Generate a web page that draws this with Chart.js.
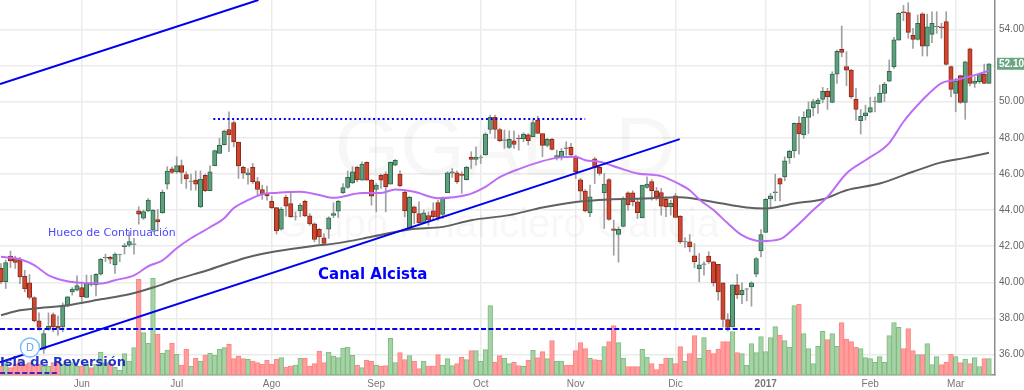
<!DOCTYPE html>
<html>
<head>
<meta charset="utf-8">
<title>GGAL, D</title>
<script src="https://cdn.jsdelivr.net/npm/chart.js@4"></script>
<style>
  html, body { margin: 0; padding: 0; background: #fff; overflow: hidden; }
  canvas { display: block; filter: blur(0.35px); }
</style>
</head>
<body>
<canvas id="chart" width="1024" height="390"></canvas>
<script>
const opens = [40.77,40.03,41.45,41.32,41.23,40.34,39.97,39.16,37.87,36.30,37.40,38.22,37.57,37.53,38.68,39.47,39.57,39.71,39.16,39.97,39.86,40.45,41.36,41.38,40.97,41.54,41.98,42.06,42.10,43.96,43.55,43.96,42.89,43.48,43.85,
  45.44,46.29,46.12,46.47,45.97,45.59,45.66,44.18,45.92,45.07,46.45,47.14,47.62,48.46,48.85,47.76,46.36,45.95,46.36,45.58,45.14,44.92,44.48,44.14,42.94,44.70,44.36,43.62,43.96,44.48,43.68,43.24,42.94,42.46,42.94,43.70,43.94,
  44.96,45.25,45.51,46.36,45.66,46.64,45.66,45.14,45.92,45.99,45.44,46.49,45.99,44.99,42.98,44.18,43.81,43.29,43.70,43.96,44.42,43.76,44.97,46.05,46.06,45.99,45.69,46.93,46.80,46.89,47.06,48.46,49.13,48.46,47.86,47.47,47.84,47.98,47.95,48.17,48.06,48.98,48.24,47.58,47.91,46.91,46.93,47.45,47.47,46.93,45.68,45.05,43.85,46.84,46.36,44.96,45.69,42.96,42.65,43.09,44.96,44.96,44.46,43.57,45.25,45.58,45.07,44.97,44.60,44.18,44.79,43.66,
  42.24,42.24,41.47,40.76,40.99,41.45,41.13,40.99,39.97,37.94,37.53,39.86,39.32,39.62,39.75,40.45,41.74,
  42.76,44.62,44.97,45.75,45.84,46.89,47.28,48.82,48.17,49.13,49.65,49.89,50.13,50.57,49.96,51.53,52.90,51.95,51.75,50.13,48.95,49.22,49.42,49.99,49.96,50.46,51.14,51.94,53.41,54.97,54.93,53.67,53.45,54.87,53.08,53.73,54.16,54.15,54.43,51.94,50.46,51.44,49.96,52.93,51.01,51.11,51.53,51.01];
const closes = [40.03,41.10,41.19,41.10,40.30,39.64,39.16,37.87,37.50,37.16,37.57,37.53,37.48,38.68,39.20,39.62,39.82,39.20,39.97,39.88,40.45,41.28,41.38,41.28,41.56,41.56,42.04,42.26,42.13,43.78,43.92,44.55,44.00,43.35,44.98,
  46.16,46.08,46.47,46.08,45.73,45.60,45.44,45.71,45.07,46.12,47.30,47.58,48.37,48.17,47.78,46.45,46.05,46.06,45.57,45.14,44.90,44.79,44.12,42.85,44.05,44.22,43.63,43.63,44.27,43.68,43.24,42.37,42.52,42.15,43.57,43.81,44.49,
  45.25,45.81,46.12,45.69,46.54,45.66,44.77,45.38,45.66,45.29,46.64,46.75,45.34,43.96,44.70,43.85,43.29,43.85,43.44,43.63,43.59,44.68,46.06,46.12,45.57,45.92,46.36,46.80,46.93,46.90,48.21,49.13,48.46,47.84,47.89,47.91,47.63,47.95,48.21,47.84,48.85,48.24,47.58,47.91,47.36,47.02,47.25,47.41,47.06,46.12,45.05,43.96,44.73,46.36,46.03,45.44,43.48,42.87,42.94,44.64,44.29,44.46,43.85,45.38,45.44,45.07,44.73,44.22,44.18,44.38,43.59,42.24,
  42.26,41.96,41.15,40.97,41.02,41.13,39.97,39.47,37.94,37.50,39.86,39.32,39.56,39.64,39.97,41.32,42.65,
  44.60,44.79,45.01,45.44,46.73,47.25,48.80,48.21,49.13,49.57,50.00,50.07,50.57,50.27,51.53,52.79,52.73,51.75,50.27,49.57,49.19,49.39,49.68,50.00,50.48,50.98,51.68,53.43,54.89,54.93,53.84,53.45,54.34,53.08,54.15,54.34,54.17,54.08,52.07,50.68,51.14,49.96,52.21,51.01,51.14,51.51,51.01,52.10];
const highs = [41.04,41.23,41.73,41.45,41.38,40.67,40.43,39.20,38.31,37.35,38.31,38.31,38.13,38.86,39.23,39.71,40.36,40.03,40.40,40.40,40.49,41.32,41.56,41.45,41.63,41.56,42.15,42.80,42.43,44.18,44.00,44.64,44.03,44.03,45.11,
  46.40,46.40,46.95,46.77,46.12,45.99,46.17,46.17,45.99,46.45,47.32,47.97,48.43,49.44,48.94,47.76,46.43,46.30,46.58,45.81,45.38,45.33,44.77,44.14,44.14,44.83,45.01,43.90,44.36,44.55,43.81,43.29,42.98,42.70,43.63,44.40,44.55,
  45.47,46.17,46.40,46.43,46.67,46.67,45.69,45.47,45.99,46.12,46.67,46.80,46.17,45.10,44.77,44.22,44.46,44.00,43.90,44.40,44.55,44.73,46.12,46.30,46.17,46.12,46.43,47.23,47.50,47.04,48.28,49.26,49.26,48.52,48.43,48.39,48.39,48.15,48.28,48.24,48.98,49.20,48.24,47.97,47.97,47.32,47.41,47.78,47.69,47.04,45.75,45.14,45.38,46.91,46.43,46.03,45.75,43.44,43.07,44.73,45.01,45.07,44.64,45.38,45.84,45.69,45.25,45.20,44.73,44.55,44.92,43.70,
  42.48,42.65,42.15,41.60,41.13,41.69,41.17,40.99,39.97,38.27,39.86,40.45,39.97,39.67,40.03,41.37,42.92,
  44.63,44.92,45.99,45.79,46.95,47.32,48.83,49.17,49.44,50.00,50.13,50.18,50.79,50.74,51.66,52.86,54.19,52.77,51.79,50.74,49.57,49.81,50.24,50.27,50.92,51.07,52.31,53.56,54.93,55.33,55.48,54.06,54.80,54.93,54.85,54.98,54.98,54.34,54.98,51.97,51.29,51.47,52.25,52.97,51.38,51.57,52.08,52.10];
const lows = [39.93,39.66,40.82,40.77,39.93,39.47,39.07,37.81,37.35,36.06,37.35,37.26,37.07,37.26,38.64,39.29,39.53,38.92,39.16,39.79,39.25,40.40,41.14,41.04,40.49,41.14,41.56,41.97,41.56,43.22,43.48,43.91,42.80,42.89,43.81,
  45.16,46.03,46.03,45.47,45.20,45.10,45.10,44.14,45.01,45.07,46.45,47.14,47.60,47.23,47.50,45.75,45.75,45.44,45.47,44.83,44.59,44.55,44.09,42.67,42.89,43.66,43.59,43.44,43.63,43.63,43.16,42.24,42.15,42.11,42.43,43.59,43.59,
  44.92,45.20,45.47,45.57,45.66,45.66,44.27,43.90,45.20,43.90,45.44,46.45,45.29,43.63,42.98,43.26,43.26,43.29,43.16,43.44,43.44,43.53,44.96,45.81,45.47,44.92,45.66,46.30,46.49,46.58,47.04,48.24,47.97,47.78,47.41,47.41,47.41,47.32,47.78,47.60,48.06,48.24,46.95,47.50,47.32,46.77,46.77,47.04,46.95,45.75,44.55,43.90,43.63,45.47,45.93,42.98,43.44,41.50,41.12,43.07,44.00,44.22,43.53,43.57,45.20,44.55,44.55,43.72,43.63,43.72,43.59,42.15,
  41.93,41.69,40.80,40.03,40.39,41.04,39.79,39.01,37.53,37.31,37.53,39.10,38.82,38.97,38.68,40.30,41.41,
  42.76,44.18,44.51,44.51,45.62,46.58,46.91,47.10,47.97,48.24,49.22,49.35,49.94,49.57,49.94,51.01,52.49,50.88,50.18,48.98,48.21,48.98,49.39,49.44,49.96,50.00,51.11,51.84,53.41,54.48,53.51,52.95,53.41,52.53,52.53,53.27,53.78,53.51,52.03,50.27,49.44,49.90,49.02,50.87,50.79,51.01,51.01,51.01];
const volumes = [27,37,22,32,42,32,37,27,32,27,27,37,37,32,32,37,27,27,32,22,32,69,37,34,24,14,64,42,82,287,127,95,290,122,65,
  75,95,62,30,77,27,50,42,60,65,60,77,82,92,49,57,49,47,42,37,32,44,32,47,52,24,27,30,50,50,27,34,72,37,69,57,52,
  81,84,59,29,22,44,41,30,26,28,110,37,67,46,58,41,19,42,27,27,61,29,49,28,34,53,46,73,73,41,76,208,38,58,50,34,38,28,26,44,74,52,70,49,103,42,42,29,29,73,97,79,50,46,44,85,100,148,97,51,25,25,25,77,54,34,16,32,51,51,34,85,
  41,64,118,50,112,74,64,78,100,100,130,67,64,29,94,67,115,70,112,145,120,103,83,208,212,124,79,34,86,131,106,124,86,157,108,100,83,79,52,49,38,55,38,118,157,143,79,139,73,61,61,94,31,55,31,39,62,55,37,48,34,52,25,49,49];

const purpleIdx = [0,4,7,10,14,17,21,24,28,31,34,37,40,44,47,49,52,55,58,63,67,70,76,80,83,87,92,98,102,105,109,114,117,121,123,126,130,134,139,143,145,147,150,153,156,160,164,167,171,174,178,182,187,190,194,198,201,205,208];
const purpleVal = [41.41,41.28,40.95,40.39,40.06,39.97,39.93,40.12,40.39,40.89,41.22,41.89,42.44,43.05,43.55,44.11,44.55,44.88,44.95,45.01,44.83,44.68,44.94,44.95,45.14,45.01,44.66,44.83,45.29,45.82,46.27,46.71,46.89,46.95,46.76,46.67,46.34,46.03,45.88,45.41,45.10,44.59,44.00,43.27,42.61,42.28,42.39,43.00,44.00,44.73,46.03,46.76,47.71,48.89,50.09,51.03,51.20,51.47,51.71];
const grayIdx = [0,4,7,14,21,27,32,37,43,52,58,66,71,78,86,93,99,107,114,121,128,135,143,150,157,161,167,173,178,185,192,198,203,208];
const grayVal = [38.18,38.45,38.55,38.73,39.06,39.34,39.71,40.17,40.63,41.39,41.72,42.02,42.17,42.52,42.93,43.07,43.44,43.72,44.14,44.45,44.59,44.64,44.71,44.45,44.14,44.09,44.37,44.60,45.10,45.47,46.12,46.64,46.89,47.17];

const priceTicks = [36,38,40,42,44,46,48,50,52,54];
const monthIdx = [17,37,57,79,101,121,142,161,183,201];
const monthLabels = ['Jun','Jul','Ago','Sep','Oct','Nov','Dic','2017','Feb','Mar'];
const lastPrice = 52.10;

const upperChannel = [{x:-0.2,y:50.98},{x:54.2,y:55.63}];
const lowerChannel = [{x:-0.2,y:35.57},{x:142.9,y:47.93}];
const resistance = [{x:44.7,y:49.04},{x:123,y:49.04}];
const support = [{x:-0.2,y:37.42},{x:160,y:37.42}];
const islandBase = [{x:-0.2,y:34.98},{x:12,y:34.98}];
const dividendStem = [{x:6.1,y:35.85},{x:6.1,y:34.87}];
const dividendMark = [{x:6.1,y:36.39}];

const isUp = closes.map((c, i) => c >= opens[i]);

function lineSet(data, color, width, dash, order) {
    return { type: 'line', data: data, borderColor: color, borderWidth: width, borderDash: dash, pointRadius: 0, order: order, tension: 0 };
}

function averageSet(idx, vals, color) {
    const set = lineSet(idx.map((v, i) => ({ x: v, y: vals[i] })), color, 2, [], 3);
    set.cubicInterpolationMode = 'monotone';
    return set;
}

// watermark goes under the marks, notes go over them
const drawings = {
    id: 'drawings',
    beforeDatasetsDraw(chart) {
        const ctx = chart.ctx;
        ctx.save();
        ctx.fillStyle = 'rgba(0,0,0,0.03)';
        ctx.textAlign = 'center';
        ctx.textBaseline = 'middle';
        ctx.font = '84px "Liberation Sans"';
        ctx.fillText('GGAL, D', 505, 152);
        ctx.font = '40px "Liberation Sans"';
        ctx.fillText('Grupo Financiero Galicia', 498, 226);
        ctx.restore();
    },
    afterDatasetsDraw(chart) {
        const ctx = chart.ctx;
        const x = chart.scales.x, y = chart.scales.y;
        ctx.save();
        ctx.textBaseline = 'alphabetic';
        ctx.fillStyle = '#0000ff';
        ctx.font = 'bold 15px "DejaVu Sans"';
        ctx.fillText('Canal Alcista', 318, 279);
        ctx.fillStyle = '#4a4aff';
        ctx.font = '11px "DejaVu Sans"';
        ctx.fillText('Hueco de Continuación', 48, 236);
        ctx.fillStyle = 'rgba(10,30,190,0.9)';
        ctx.font = 'bold 13px "DejaVu Sans"';
        ctx.fillText('Isla de Reversión', 0, 366);
        ctx.fillStyle = '#5aa5f5';
        ctx.textAlign = 'center';
        ctx.textBaseline = 'middle';
        ctx.font = '11px "Liberation Sans"';
        ctx.fillText('D', x.getPixelForValue(dividendMark[0].x), y.getPixelForValue(dividendMark[0].y));
        // last price tag on the axis
        const py = y.getPixelForValue(lastPrice);
        ctx.fillStyle = '#6ba583';
        ctx.fillRect(997, py - 6, 27, 12);
        ctx.fillStyle = '#ffffff';
        ctx.font = 'bold 10px "Liberation Sans"';
        ctx.textAlign = 'left';
        ctx.fillText(lastPrice.toFixed(2), 999, py + 0.5);
        ctx.restore();
    }
};

new Chart(document.getElementById('chart').getContext('2d'), {
    type: 'bar',
    data: {
        datasets: [
            lineSet(upperChannel, '#0000f0', 2, [], 1),
            lineSet(lowerChannel, '#0000f0', 2, [], 1),
            lineSet(resistance, '#0000f0', 2, [2, 2.7], 1),
            lineSet(support, '#0000f0', 2, [5, 2.4], 1),
            lineSet(islandBase, '#4a1fc0', 2, [5, 2.4], 1),
            lineSet(dividendStem, '#8cc4f8', 1, [1, 2], 2),
            {
                type: 'line', showLine: false, data: dividendMark, order: 0,
                pointRadius: 9.5, pointBackgroundColor: '#ffffff', pointBorderColor: '#7cc0ff', pointBorderWidth: 1.5
            },
            averageSet(purpleIdx, purpleVal, '#bd6cf5'),
            averageSet(grayIdx, grayVal, '#606060'),
            {
                label: 'body', yAxisID: 'y', order: 4, barThickness: 4.4, borderWidth: 1, borderSkipped: false, grouped: false,
                data: opens.map((o, i) => ({ x: i, y: [o, closes[i]] })),
                backgroundColor: isUp.map(u => u ? '#5f9f7e' : '#d0452f'),
                borderColor: isUp.map(u => u ? '#2f6a4c' : '#8a2a1b')
            },
            {
                label: 'wick', yAxisID: 'y', order: 5, barThickness: 1, borderWidth: 0, grouped: false,
                data: lows.map((l, i) => ({ x: i, y: [l, highs[i]] })),
                backgroundColor: '#a0a0a0'
            },
            {
                label: 'volume', yAxisID: 'vol', order: 6, barThickness: 4.75, borderWidth: 1, borderSkipped: false, grouped: false,
                data: volumes.map((v, i) => ({ x: i, y: v })),
                backgroundColor: isUp.map(u => u ? '#a6d2a6' : '#ff9c9c'),
                borderColor: isUp.map(u => u ? '#7ebc80' : '#ff8484')
            }
        ]
    },
    options: {
        responsive: false,
        animation: false,
        layout: { padding: 0, autoPadding: false },
        plugins: { legend: { display: false }, tooltip: { enabled: false } },
        scales: {
            x: {
                type: 'linear', offset: false, min: -0.21, max: 209.27,
                afterBuildTicks: s => { s.ticks = monthIdx.map(v => ({ value: v })); },
                afterFit: s => { s.height = 15; s.paddingLeft = 0; s.paddingRight = 0; },
                grid: { offset: false, color: '#ebebeb', lineWidth: 1.5, drawTicks: false },
                border: { display: true, color: '#8c8c8c', width: 1.5 },
                ticks: {
                    padding: 3, maxRotation: 0, autoSkip: false, color: '#777777',
                    font: c => ({ family: 'Liberation Sans', size: 10, weight: c.tick && c.tick.value === monthIdx[monthLabels.indexOf('2017')] ? 'bold' : 'normal' }),
                    callback: v => monthLabels[monthIdx.indexOf(v)]
                }
            },
            y: {
                position: 'right', min: 34.87, max: 55.63,
                afterBuildTicks: s => { s.ticks = priceTicks.map(v => ({ value: v })); },
                afterFit: s => { s.width = 29; s.paddingTop = 0; s.paddingBottom = 0; },
                grid: { color: '#ebebeb', lineWidth: 1.5, drawTicks: false },
                border: { display: true, color: '#8c8c8c', width: 1.5 },
                ticks: { padding: 4, color: '#666666', font: { family: 'Liberation Sans', size: 10 }, callback: v => v.toFixed(2) }
            },
            vol: { display: false, min: 0, max: 1125, afterFit: s => { s.paddingTop = 0; s.paddingBottom = 0; } }
        }
    },
    plugins: [drawings]
});
</script>
</body>
</html>
